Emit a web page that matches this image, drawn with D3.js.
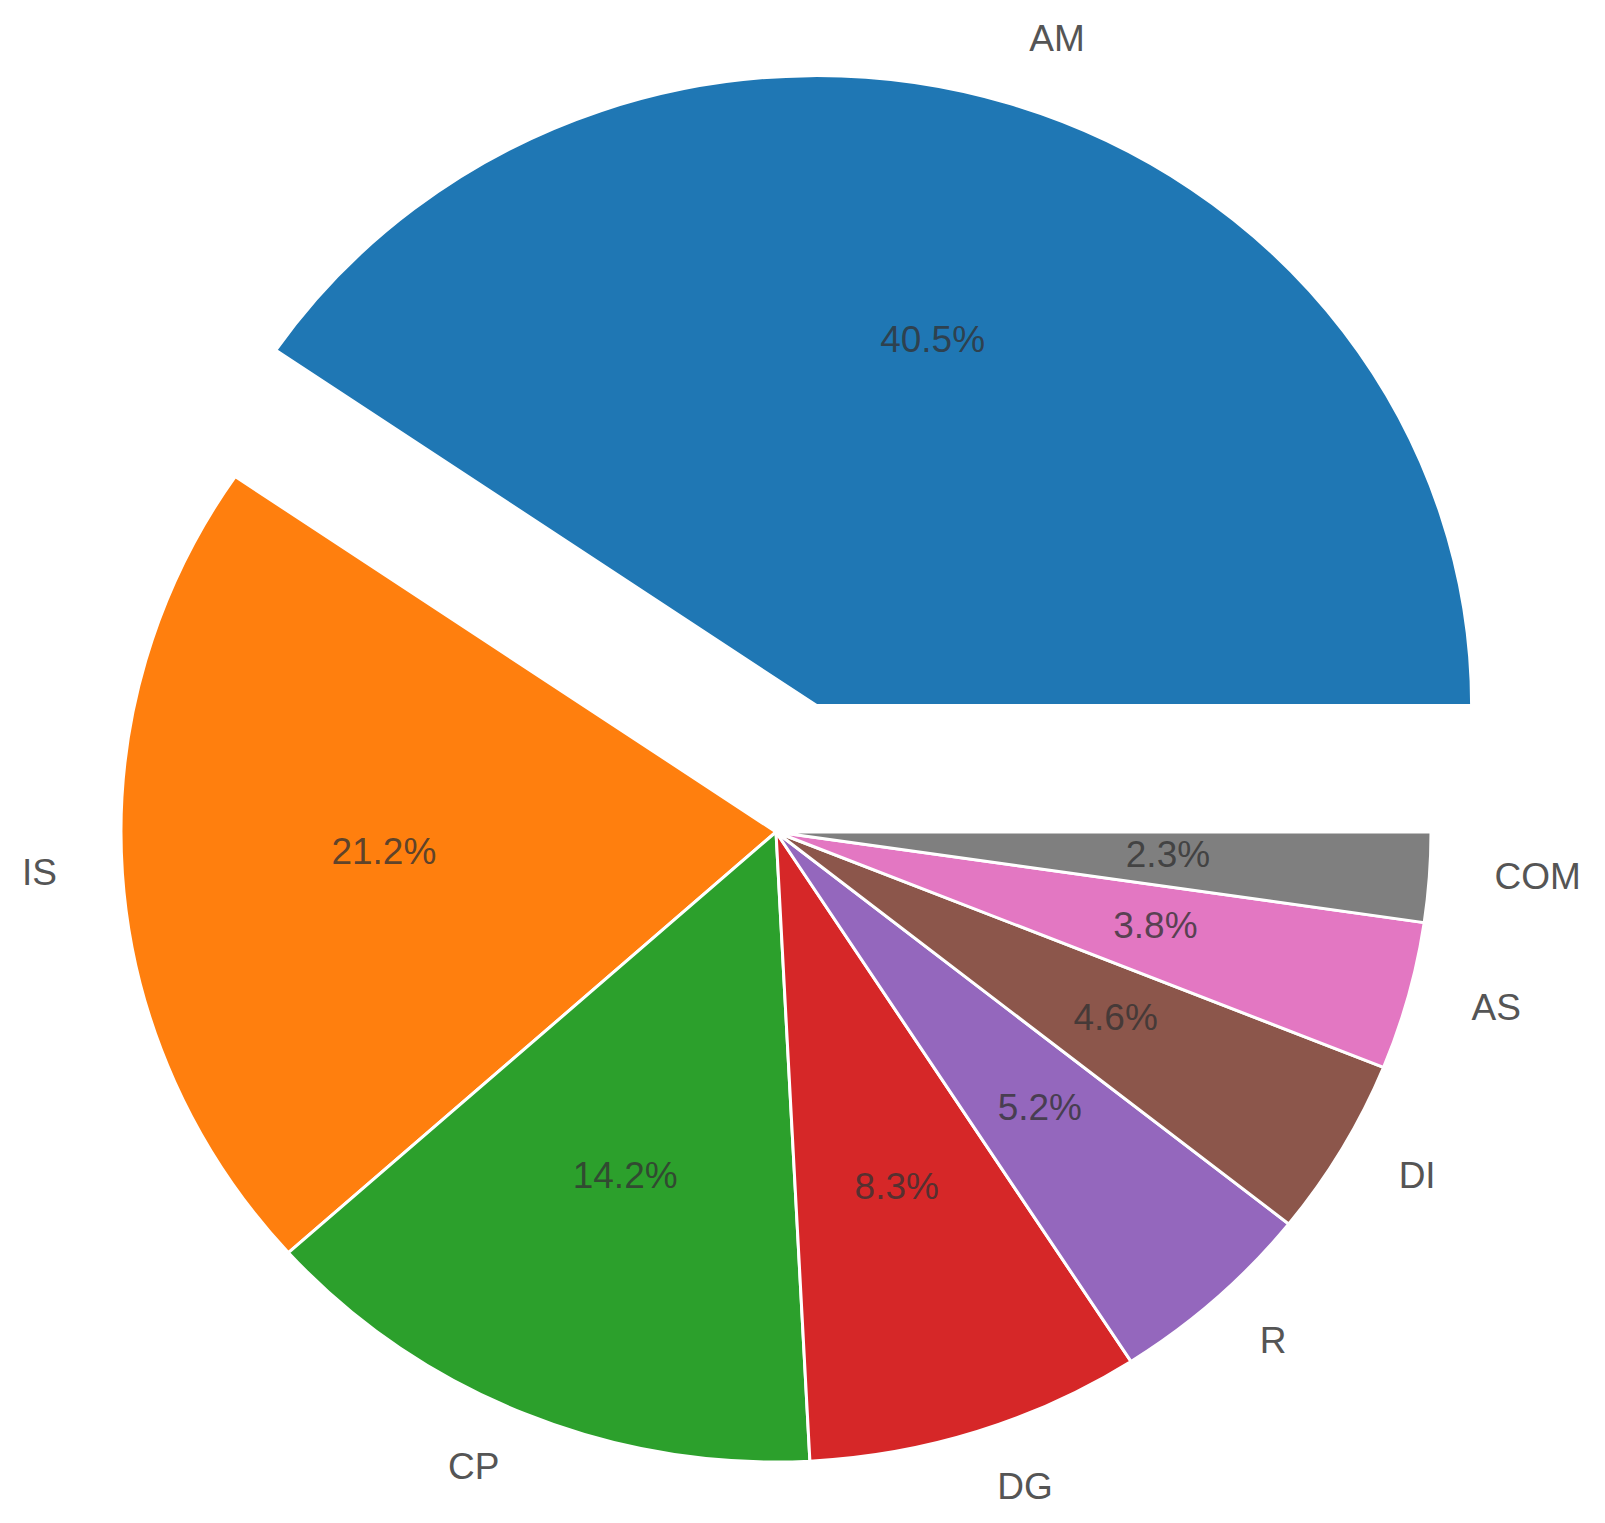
<!DOCTYPE html>
<html>
<head>
<meta charset="utf-8">
<script src="https://cdn.jsdelivr.net/npm/d3@7"></script>
<style>
  html, body { margin: 0; padding: 0; background: #fff; }
  svg { display: block; }
</style>
</head>
<body>
<svg id="chart" width="1605" height="1523"></svg>
<script>
const categories = ["AM", "IS", "CP", "DG", "R", "DI", "AS", "COM"];
const values = [40.5, 21.2, 14.2, 8.3, 5.2, 4.6, 3.8, 2.3];
const explode = [0.21, 0, 0, 0, 0, 0, 0, 0];
const colors = ["#1f77b4", "#ff7f0e", "#2ca02c", "#d62728", "#9467bd", "#8c564b", "#e377c2", "#7f7f7f"];

const W = 1605, H = 1523;
const cx = 776, cy = 832;
const Rx = 655, Ry = 630;
const R = Ry;
const sx = Rx / Ry;

const svg = d3.select("#chart");
const g = svg.append("g").attr("transform", `translate(${cx},${cy}) scale(${sx},1)`);

// matplotlib: start at 3 o'clock, counterclockwise
const pie = d3.pie().sort(null).value(d => d.v)
  .startAngle(Math.PI / 2).endAngle(Math.PI / 2 - 2 * Math.PI);
const data = pie(categories.map((c, i) => ({ c, v: values[i], i })));

const arc = d3.arc().innerRadius(0).outerRadius(R);
const midDir = d => {
  const a = (d.startAngle + d.endAngle) / 2;
  return [Math.sin(a), -Math.cos(a)];
};

const slices = g.selectAll("g.slice").data(data).enter().append("g")
  .attr("class", "slice")
  .attr("transform", d => {
    const [ux, uy] = midDir(d);
    const e = explode[d.data.i] * R;
    return `translate(${ux * e},${uy * e})`;
  });

slices.append("path")
  .attr("d", arc)
  .attr("fill", d => colors[d.data.i])
  .attr("stroke", "#fff")
  .attr("stroke-width", 3)
  .attr("stroke-linejoin", "round")
  .attr("vector-effect", "non-scaling-stroke");

// labels (outside the scaled group to keep text undistorted)
const tg = svg.append("g");
data.forEach(d => {
  const [ux, uy] = midDir(d);
  const e = explode[d.data.i];
  const ox = cx + ux * Rx * e, oy = cy + uy * Ry * e;
  // category label at 1.1 radius
  const lx = ox + ux * Rx * 1.1, ly = oy + uy * Ry * 1.1;
  tg.append("text")
    .attr("x", lx).attr("y", ly)
    .attr("dy", "0.2em")
    .attr("text-anchor", ux > 0 ? "start" : "end")
    .attr("font-family", "Liberation Sans, Arial, sans-serif")
    .attr("font-size", 37)
    .attr("fill", "#555")
    .text(d.data.c);
  // percent label at 0.6 radius
  const px = ox + ux * Rx * 0.6, py = oy + uy * Ry * 0.6;
  tg.append("text")
    .attr("x", px).attr("y", py)
    .attr("dy", "0.2em")
    .attr("text-anchor", "middle")
    .attr("font-family", "Liberation Sans, Arial, sans-serif")
    .attr("font-size", 37)
    .attr("fill", "#333")
    .attr("fill-opacity", 0.8)
    .text(d3.format(".1f")(d.data.v) + "%");
});
</script>
</body>
</html>
